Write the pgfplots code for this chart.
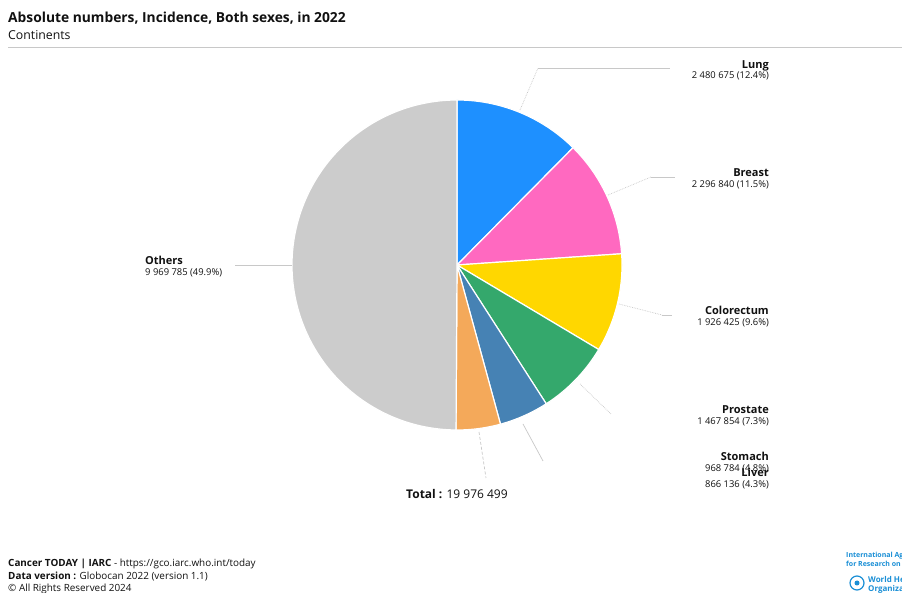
\documentclass[border=0pt]{standalone}
\usepackage{pgfplots}
\pgfplotsset{compat=1.18}
\usepackage{pgfplotstable}
\usepackage{fontspec}
\setmainfont{Open Sans}
\definecolor{pie0}{HTML}{1E90FF}
\definecolor{pie1}{HTML}{FF69C0}
\definecolor{pie2}{HTML}{FFD700}
\definecolor{pie3}{HTML}{34A86C}
\definecolor{pie4}{HTML}{4682B4}
\definecolor{pie5}{HTML}{F4A95A}
\definecolor{pie6}{HTML}{CCCCCC}
\definecolor{lead}{HTML}{C8C8C8}
\definecolor{txt}{HTML}{111111}
\definecolor{iarc}{HTML}{1A8FD6}

\pgfplotstableread{
name value
Lung 2480675
Breast 2296840
Colorectum 1926425
Prostate 1467854
Stomach 968784
Liver 866136
Others 9969785
}\pietable
\def\total{19976499}
\def\cum{0}
\pgfplotsforeachungrouped \i in {0,...,6}{%
  \pgfplotstablegetelem{\i}{value}\of\pietable
  \edef\startang{\fpeval{90-360*\cum/\total}}%
  \edef\cum{\fpeval{\cum+\pgfplotsretval}}%
  \edef\stopang{\fpeval{90-360*\cum/\total}}%
  \expandafter\xdef\csname pieS\i\endcsname{\startang}%
  \expandafter\xdef\csname pieE\i\endcsname{\stopang}%
}

\newcommand\labfont{\fontsize{11bp}{12bp}\selectfont\bfseries}
\newcommand\valfont{\fontsize{9.4bp}{10bp}\selectfont}
\newcommand\rlab[5]{%
  \node[anchor=base east, inner sep=0, font=\labfont, text=txt] at (769,593-#1) {#3};
  \node[anchor=base east, inner sep=0, font=\valfont, text=txt] at (769,593-#2) {#4 (#5)};
}

\begin{document}
\begin{tikzpicture}[x=1bp,y=1bp]
\path[use as bounding box] (0,0) rectangle (902,593);
\fill[white] (0,0) rectangle (902,593);

% title
\node[anchor=base west, inner sep=0, font=\fontsize{13.8bp}{15bp}\selectfont\bfseries, text=txt] at (8,593-23) {Absolute numbers, Incidence, Both sexes, in 2022};
\node[anchor=base west, inner sep=0, font=\fontsize{12.3bp}{14bp}\selectfont, text=txt] at (8,593-39.5) {Continents};
\draw[lead, line width=0.8bp] (8,593-47) -- (902,593-47);

% pie
\begin{axis}[at={(457bp,328bp)}, anchor=center, scale only axis,
  width=330bp, height=330bp, xmin=-1, xmax=1, ymin=-1, ymax=1,
  hide axis, clip=false]
\pgfplotsinvokeforeach{0,...,6}{%
  \edef\temp{\noexpand\addplot[fill=pie#1, draw=white, line width=1.2pt,
    line join=round, samples=120,
    domain=\csname pieE#1\endcsname:\csname pieS#1\endcsname,
    variable=\noexpand\t] ({cos(\noexpand\t)},{sin(\noexpand\t)}) -- (axis cs:0,0) -- cycle;}%
  \temp
}
\end{axis}

% leader lines
\draw[lead, densely dotted, line width=0.7bp] (520,593-110) -- (538,593-68);
\draw[lead, line width=0.8bp] (538,593-68) -- (670,593-68);
\draw[lead, densely dotted, line width=0.7bp] (608,593-195) -- (651,593-177);
\draw[lead, line width=0.8bp] (651,593-177) -- (675,593-177);
\draw[lead, densely dotted, line width=0.7bp] (619,593-304) -- (662,593-315);
\draw[lead, line width=0.8bp] (662,593-315) -- (672,593-315);
\draw[lead, densely dotted, line width=0.7bp] (580,593-384) -- (611,593-414);
\draw[lead, line width=0.7bp] (523,593-424) -- (543,593-461);
\draw[lead, densely dashed, line width=0.7bp] (479,593-432) -- (486,593-478);
\draw[lead, line width=0.8bp] (235,593-265) -- (292,593-265);

% labels
\rlab{69}{78.5}{Lung}{2 480 675}{12.4\%}
\rlab{177}{188}{Breast}{2 296 840}{11.5\%}
\rlab{315}{326}{Colorectum}{1 926 425}{9.6\%}
\rlab{414}{425}{Prostate}{1 467 854}{7.3\%}
\rlab{461}{472}{Stomach}{968 784}{4.8\%}
\rlab{477}{488}{Liver}{866 136}{4.3\%}
\node[anchor=base west, inner sep=0, font=\labfont, text=txt] at (145,593-265) {Others};
\node[anchor=base west, inner sep=0, font=\valfont, text=txt] at (145,593-276) {9 969 785 (49.9\%)};

% total
\node[anchor=base west, inner sep=0, font=\fontsize{12bp}{13bp}\selectfont, text=txt] at (406,593-498.5) {\textbf{Total :} 19 976 499};

% footer
\begin{scope}[font=\fontsize{9.9bp}{11bp}\selectfont, text=txt]
\node[anchor=base west, inner sep=0] at (8,593-566.5) {\textbf{Cancer TODAY | IARC} - https://gco.iarc.who.int/today};
\node[anchor=base west, inner sep=0] at (8,593-579.5) {\textbf{Data version :} Globocan 2022 (version 1.1)};
\node[anchor=base west, inner sep=0] at (8,593-592) {© All Rights Reserved 2024};
\end{scope}

% logo (clipped at the right edge, as in the reference)
\begin{scope}
\clip (840,0) rectangle (902,593-545);
\node[anchor=base west, inner sep=0, font=\fontsize{7bp}{9bp}\selectfont\bfseries, text=iarc] at (846,593-558) {International Agency};
\node[anchor=base west, inner sep=0, font=\fontsize{7bp}{9bp}\selectfont\bfseries, text=iarc] at (846,593-567) {for Research on Cancer};
\draw[iarc, line width=1.2bp] (857,593-583) circle (7);
\fill[iarc] (857,593-583) circle (2.5);
\node[anchor=base west, inner sep=0, font=\fontsize{8bp}{9bp}\selectfont\bfseries, text=iarc] at (868,593-583) {World Health};
\node[anchor=base west, inner sep=0, font=\fontsize{8bp}{9bp}\selectfont\bfseries, text=iarc] at (868,593-592) {Organization};
\end{scope}
\end{tikzpicture}
\end{document}
